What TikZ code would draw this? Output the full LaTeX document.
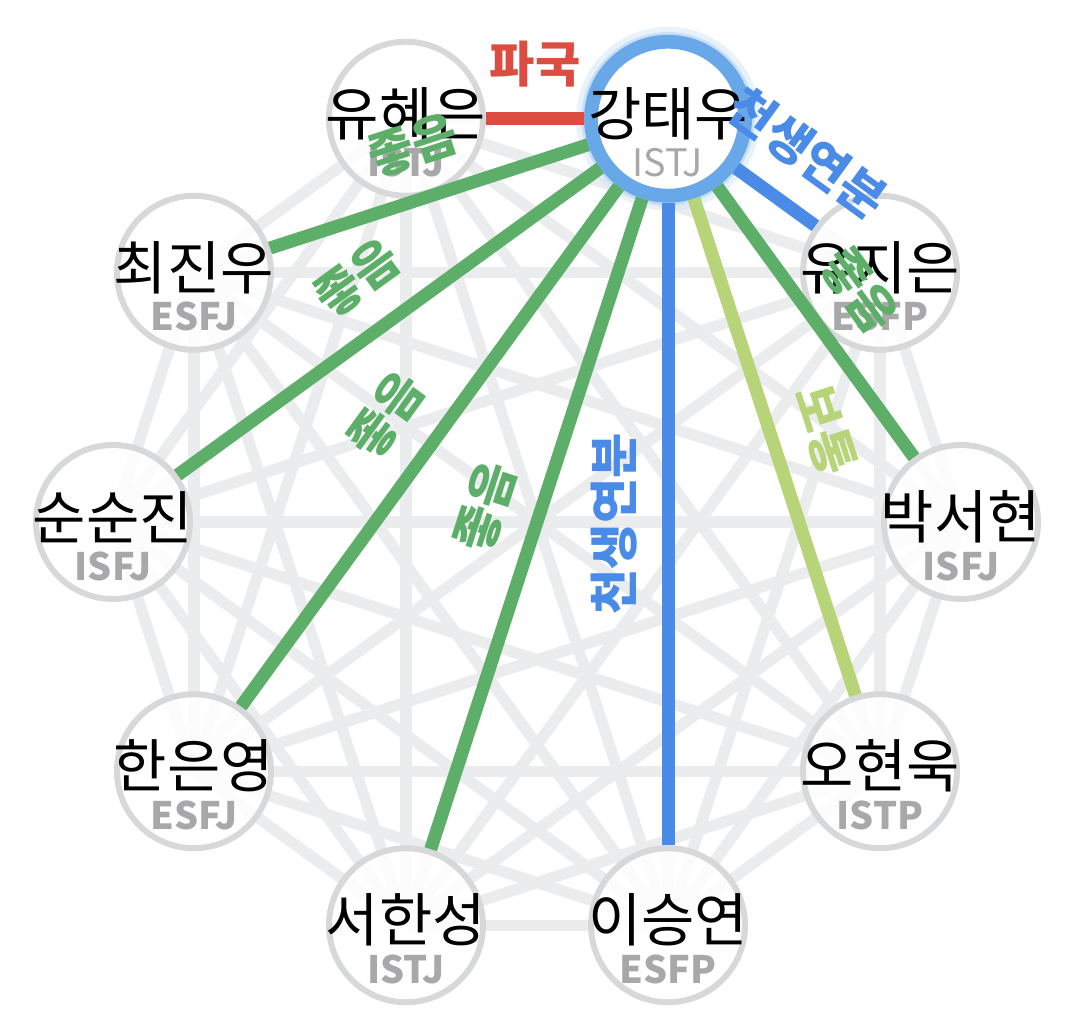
\documentclass[tikz,border=0pt]{standalone}
\usepackage{fontspec}
\setmainfont{Noto Sans CJK KR}
\usetikzlibrary{backgrounds}

\definecolor{netgray}{RGB}{235,236,238}
\definecolor{ringgray}{RGB}{215,216,218}
\definecolor{typegray}{RGB}{168,168,170}
\definecolor{goodgreen}{RGB}{92,174,104}
\definecolor{sosogreen}{RGB}{183,212,120}
\definecolor{matchblue}{RGB}{74,139,232}
\definecolor{ringblue}{RGB}{104,168,232}
\definecolor{badred}{RGB}{220,76,64}

\tikzset{
  person/.style={circle, draw=ringgray, line width=3.4pt, fill=white, fill opacity=0.85,
    minimum size=3.08cm, inner sep=0pt},
  me/.style={person, draw=ringblue, line width=7.9pt, fill opacity=1},
  pname/.style={font=\fontsize{33}{33}\selectfont, text=black, yshift=0.1cm},
  ptype/.style={font=\fontsize{21.5}{21.5}\selectfont\bfseries, text=typegray, yshift=-0.88cm},
  tie/.style={line width=7.4pt},
  tielabel/.style={midway, sloped, above=14pt, inner sep=0pt,
    font=\fontsize{28}{28}\selectfont\bfseries},
}

\begin{document}
\begin{tikzpicture}
\useasboundingbox (0,0) rectangle (21.56,20.7);
\begin{scope}[shift={(10.74,10.26)}]
	% glow round the chosen one
	\draw[ringblue!30, line width=17pt, opacity=0.5] (72:8.48) circle (1.54);
	\draw[ringblue!50, line width=11pt, opacity=0.6] (72:8.48) circle (1.54);
	
	% people, clockwise from the top right
	\node[me, label={[pname]center:강태우},
		label={[ptype, font=\fontsize{21.5}{21.5}\selectfont]center:ISTJ}] (ktw) at (72:8.48) {};
	\node[person, label={[pname]center:유지은}, label={[ptype]center:ESFP}] (yje) at (36:8.48) {};
	\node[person, label={[pname]center:박서현}, label={[ptype]center:ISFJ}] (psh) at (0:8.48) {};
	\node[person, label={[pname]center:오현욱}, label={[ptype]center:ISTP}] (ohu) at (-36:8.48) {};
	\node[person, label={[pname]center:이승연}, label={[ptype]center:ESFP}] (lsy) at (-72:8.48) {};
	\node[person, label={[pname]center:서한성}, label={[ptype]center:ISTJ}] (shs) at (-108:8.48) {};
	\node[person, label={[pname]center:한은영}, label={[ptype]center:ESFJ}] (hey) at (-144:8.48) {};
	\node[person, label={[pname]center:순순진}, label={[ptype]center:ISFJ}] (ssj) at (180:8.48) {};
	\node[person, label={[pname]center:최진우}, label={[ptype]center:ESFJ}] (cjw) at (144:8.48) {};
	\node[person, label={[pname]center:유혜은}, label={[ptype]center:ISTJ}] (yhe) at (108:8.48) {};
	
	% faint net between everybody
	\begin{scope}[on background layer]
		\foreach \a/\i in {ktw/1,yje/2,psh/3,ohu/4,lsy/5,shs/6,hey/7,ssj/8,cjw/9,yhe/10}
			\foreach \b/\j in {ktw/1,yje/2,psh/3,ohu/4,lsy/5,shs/6,hey/7,ssj/8,cjw/9,yhe/10}
				{\ifnum\i<\j \draw[netgray, line width=6.4pt] (\a.center) -- (\b.center);\fi}
	\end{scope}
	
	% ties of 강태우
	\draw[tie, badred] (ktw) -- node[tielabel] {파국} (yhe);
	\draw[tie, goodgreen] (ktw) -- node[tielabel] {좋음} (cjw);
	\draw[tie, goodgreen] (ktw) -- node[tielabel] {좋음} (ssj);
	\draw[tie, goodgreen] (ktw) -- node[tielabel] {좋음} (hey);
	\draw[tie, goodgreen] (ktw) -- node[tielabel] {좋음} (shs);
	\draw[tie, matchblue] (lsy) -- node[tielabel, allow upside down] {천생연분} (ktw);
	\draw[tie, sosogreen] (ktw) -- node[tielabel] {보통} (ohu);
	\draw[tie, goodgreen] (ktw) -- node[tielabel] {좋음} (psh);
	\draw[tie, matchblue] (ktw) -- node[tielabel] {천생연분} (yje);
\end{scope}
\end{tikzpicture}
\end{document}
